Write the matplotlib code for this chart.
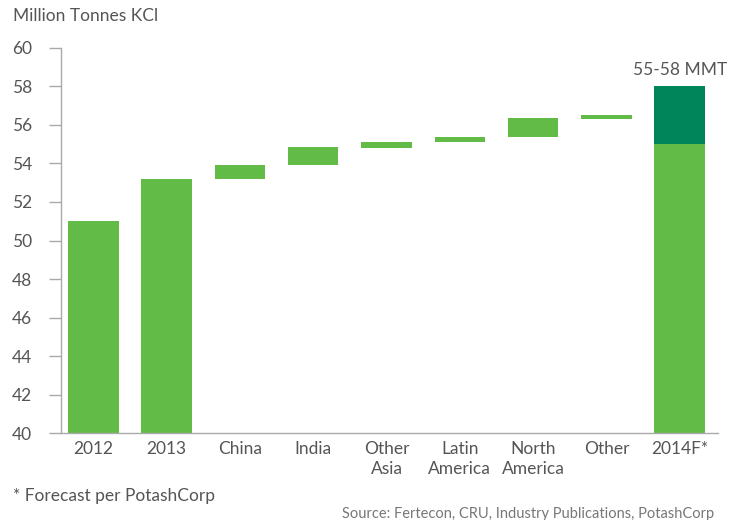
import matplotlib
matplotlib.use("Agg")
import matplotlib.pyplot as plt

plt.rcParams["font.family"] = ["Lato", "DejaVu Sans"]

categories = ["2012", "2013", "China", "India", "Other\nAsia", "Latin\nAmerica",
              "North\nAmerica", "Other", "2014F*"]
bar_bottoms = [40, 40, 53.2, 53.9, 54.8, 55.1, 55.4, 56.3, 40]
bar_tops = [51.0, 53.2, 53.9, 54.85, 55.1, 55.4, 56.35, 56.5, 55.0]
forecast_low = 55.0
forecast_high = 58.0
yticks = list(range(40, 61, 2))

LIGHT = "#63BB47"
DARK = "#00845A"
GREY = "#555555"
AXIS = "#AAAAAA"

fig = plt.figure(figsize=(7.38, 5.2), dpi=100)
ax = fig.add_axes([0.0827, 0.1673, 0.890, 0.7404])

x = list(range(len(categories)))
heights = [t - b for t, b in zip(bar_tops, bar_bottoms)]
ax.bar(x, heights, bottom=bar_bottoms, width=0.69, color=LIGHT, zorder=2)
ax.bar(x[-1], forecast_high - forecast_low, bottom=forecast_low, width=0.69, color=DARK, zorder=2)
ax.text(x[-1], forecast_high + 0.45, "55-58 MMT", ha="center", va="bottom",
        fontsize=12.5, color=GREY)

ax.set_ylim(40, 60)
ax.set_xlim(-0.44, 8.52)
ax.set_yticks(yticks)
ax.set_yticklabels([str(v) for v in yticks], fontsize=12.5, color=GREY)
ax.set_xticks(x)
ax.set_xticklabels(categories, fontsize=12.5, color=GREY, linespacing=1.3, va="top")
ax.tick_params(axis="x", length=0, pad=6)
ax.tick_params(axis="y", length=9, width=1, color=AXIS, pad=12)
for s in ("top", "right"):
    ax.spines[s].set_visible(False)
for s in ("left", "bottom"):
    ax.spines[s].set_color(AXIS)
    ax.spines[s].set_linewidth(1)

fig.text(0.017, 0.970, "Million Tonnes KCl", fontsize=12.5, color=GREY, va="center")
fig.text(0.017, 0.047, "* Forecast per PotashCorp", fontsize=12.5, color=GREY, va="center")
fig.text(0.968, 0.012, "Source: Fertecon, CRU, Industry Publications, PotashCorp",
         fontsize=10.5, color="#777777", ha="right", va="center")

fig.savefig("out.png", dpi=100)
